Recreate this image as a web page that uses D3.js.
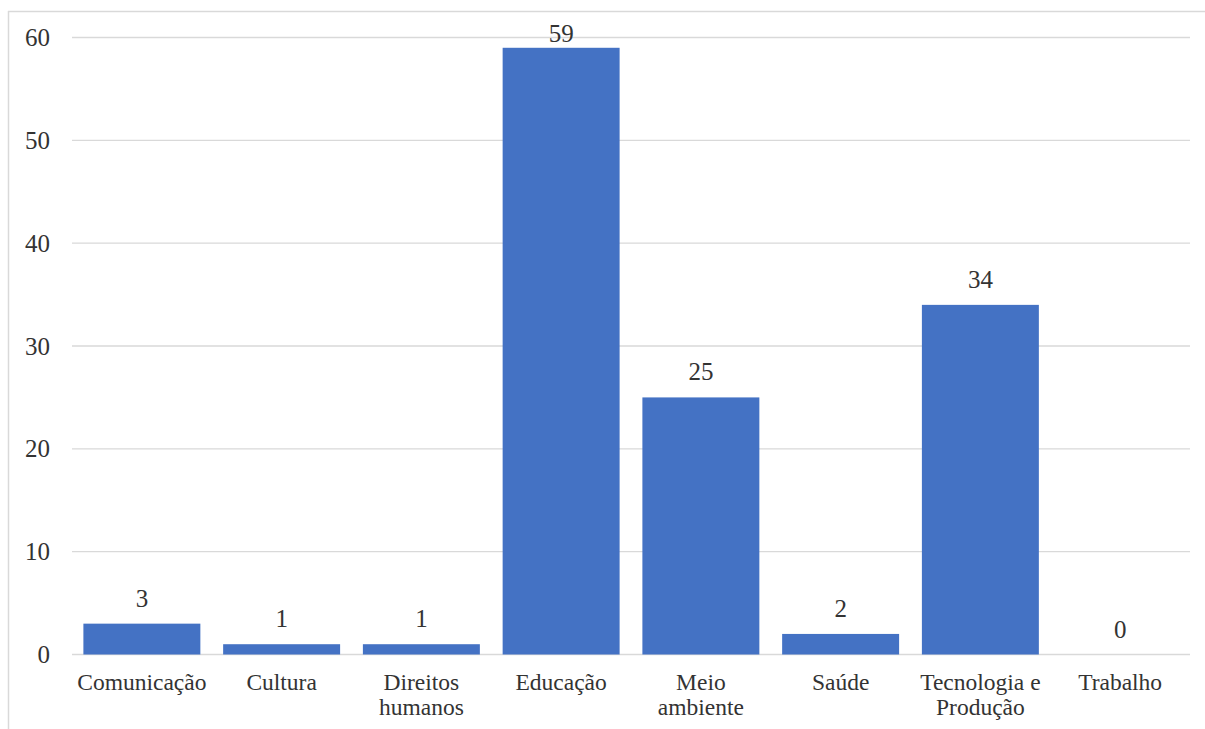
<!DOCTYPE html>
<html><head><meta charset="utf-8">
<script src="https://cdn.jsdelivr.net/npm/d3@7"></script>
</head><body style="margin:0">
<svg id="chart" width="1205" height="729" style="font-family:'Liberation Serif', Tinos, FreeSerif, 'DejaVu Serif', monospace"></svg>
<script>
const categories = ["Comunicação","Cultura","Direitos humanos","Educação","Meio ambiente","Saúde","Tecnologia e Produção","Trabalho"];
const categoryLines = [["Comunicação"],["Cultura"],["Direitos","humanos"],["Educação"],["Meio","ambiente"],["Saúde"],["Tecnologia e","Produção"],["Trabalho"]];
const values = [3,1,1,59,25,2,34,0];
const yTicks = [0,10,20,30,40,50,60];

(function(){
const svg = d3.select("#chart");
const mLeft = 72, mRight = 1190, mTop = 37.5, mBottom = 654.5;
const textColor = "#333";

// chart border (left and top visible)
svg.append("line").attr("x1",8.5).attr("x2",8.5).attr("y1",11).attr("y2",729).attr("stroke","#d9d9d9").attr("stroke-width",1.5);
svg.append("line").attr("x1",8).attr("x2",1205).attr("y1",11.5).attr("y2",11.5).attr("stroke","#d9d9d9").attr("stroke-width",1.5);

const x = d3.scaleBand().domain(categories).range([mLeft,mRight]).paddingInner(0.163).paddingOuter(0.0815);
const y = d3.scaleLinear().domain([0,60]).range([mBottom,mTop]);

// gridlines
svg.append("g").selectAll("line").data(yTicks).join("line")
  .attr("x1",mLeft).attr("x2",mRight)
  .attr("y1",d=>y(d)).attr("y2",d=>y(d))
  .attr("stroke","#d9d9d9").attr("stroke-width",1.3);

// y axis labels
const yAxis = d3.axisLeft(y).tickValues(yTicks).tickSize(0).tickPadding(22);
const gy = svg.append("g").attr("transform",`translate(${mLeft},0)`).call(yAxis);
gy.select(".domain").remove();
gy.attr("font-family",null).attr("font-size",null);
gy.selectAll("text").style("font-size","25px").attr("fill",textColor);

// bars
svg.append("g").selectAll("rect").data(values).join("rect")
  .attr("x",(d,i)=>x(categories[i]))
  .attr("width",x.bandwidth())
  .attr("y",d=>y(d))
  .attr("height",d=>y(0)-y(d))
  .attr("fill","#4472C4");

// data labels
svg.append("g").selectAll("text").data(values).join("text")
  .attr("x",(d,i)=>x(categories[i])+x.bandwidth()/2)
  .attr("y",d=>Math.max(y(d)-17, 42))
  .attr("text-anchor","middle")
  .style("font-size","25px").attr("fill",textColor)
  .text(d=>d);

// category labels
const gx = svg.append("g");
categories.forEach((c,i)=>{
  const t = gx.append("text")
    .attr("x",x(c)+x.bandwidth()/2)
    .attr("y",690)
    .attr("text-anchor","middle")
    .style("font-size","23.5px").attr("fill",textColor);
  categoryLines[i].forEach((ln,j)=>{
    t.append("tspan").attr("x",x(c)+x.bandwidth()/2).attr("dy",j===0?0:25).text(ln);
  });
});
})();
</script>
</body></html>
